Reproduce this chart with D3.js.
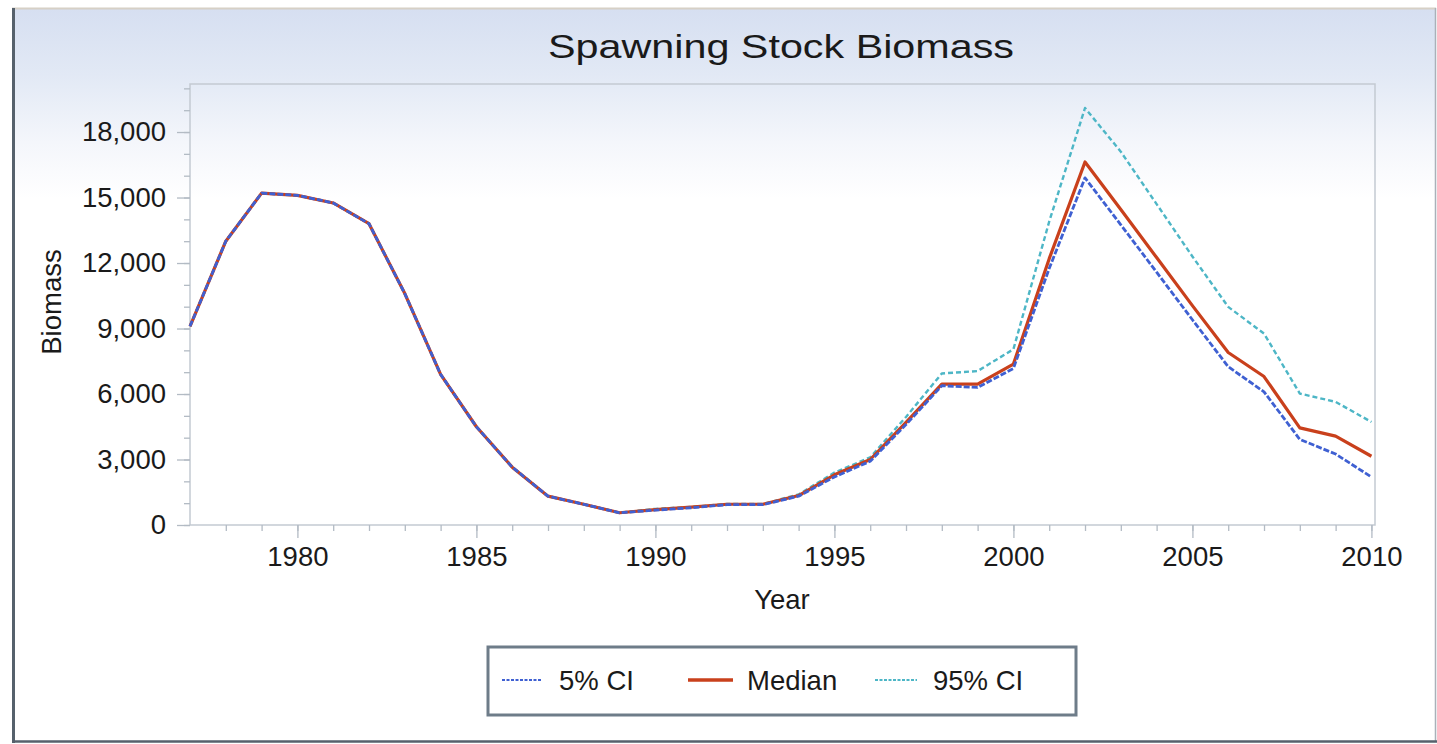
<!DOCTYPE html>
<html>
<head>
<meta charset="utf-8">
<script src="https://cdn.jsdelivr.net/npm/d3@7"></script>
<style>
  html, body { margin: 0; padding: 0; background: #ffffff; }
  svg { display: block; }
  text { font-family: "Liberation Sans", Arial, Helvetica, sans-serif; fill: #1a1a1a; }
</style>
</head>
<body>
<svg id="chart" width="1437" height="744"></svg>
<script>
// ---- data ----
const years = [1977,1978,1979,1980,1981,1982,1983,1984,1985,1986,1987,1988,1989,1990,1991,1992,1993,1994,1995,1996,1997,1998,1999,2000,2001,2002,2003,2004,2005,2006,2007,2008,2009,2010];
const median = [9100,13000,15200,15100,14750,13800,10600,6900,4500,2650,1320,950,560,700,820,950,950,1350,2300,3000,4700,6450,6450,7370,12200,16630,14450,12250,10050,7900,6800,4450,4070,3150];
const ci5    = [9100,13000,15200,15100,14750,13800,10600,6900,4500,2650,1320,950,560,680,790,930,930,1320,2200,2920,4600,6380,6300,7170,11750,15900,13750,11580,9400,7250,6100,3920,3250,2200];
const ci95   = [9100,13000,15200,15100,14750,13800,10600,6900,4500,2650,1320,950,560,740,830,960,960,1400,2400,3100,4950,6940,7050,8050,13900,19100,17100,14700,12300,9990,8770,6020,5640,4720];
const yTicks = [0,3000,6000,9000,12000,15000,18000];
const xTicks = [1980,1985,1990,1995,2000,2005,2010];
const seriesNames = ["5% CI","Median","95% CI"];

const svg = d3.select("#chart");

// background gradient
const defs = svg.append("defs");
const grad = defs.append("linearGradient").attr("id","bg").attr("x1",0).attr("y1",0).attr("x2",0).attr("y2",1);
grad.append("stop").attr("offset","0").attr("stop-color","#d6dff1");
grad.append("stop").attr("offset","0.35").attr("stop-color","#e2e9f5");
grad.append("stop").attr("offset","0.7").attr("stop-color","#f4f6fb");
grad.append("stop").attr("offset","1").attr("stop-color","#ffffff");

svg.append("rect").attr("x",13).attr("y",9).attr("width",1422).attr("height",190).attr("fill","url(#bg)");

// frame
svg.append("line").attr("x1",12).attr("x2",1436).attr("y1",8.5).attr("y2",8.5).attr("stroke","#d6d0c6").attr("stroke-width",2);
svg.append("line").attr("x1",1435.5).attr("x2",1435.5).attr("y1",8).attr("y2",742).attr("stroke","#a9b1b9").attr("stroke-width",1.5);
svg.append("line").attr("x1",13.5).attr("x2",13.5).attr("y1",8).attr("y2",743).attr("stroke","#56616c").attr("stroke-width",3);
svg.append("line").attr("x1",12).attr("x2",1437).attr("y1",741.5).attr("y2",741.5).attr("stroke","#56616c").attr("stroke-width",2.5);

// title
svg.append("text").attr("x",781).attr("y",58).attr("text-anchor","middle")
  .attr("font-size",34).attr("textLength",466).attr("lengthAdjust","spacingAndGlyphs")
  .text("Spawning Stock Biomass");

// scales
const L = 190, R = 1375, T = 84, B = 525;
const x = d3.scaleLinear().domain([1977, 2010.1]).range([L, R]);
const y = d3.scaleLinear().domain([0, 20200]).range([B, T]);

// plot frame
svg.append("rect").attr("x",L).attr("y",T).attr("width",R-L).attr("height",B-T)
  .attr("fill","none").attr("stroke","#c3cad2").attr("stroke-width",1.5);

// minor ticks y
const yMinor = d3.range(0, 20001, 1000);
svg.append("g").attr("transform",`translate(${L},0)`)
  .call(d3.axisLeft(y).tickValues(yMinor).tickSize(6).tickFormat(""))
  .call(g => g.select(".domain").remove())
  .call(g => g.selectAll("line").attr("stroke","#b3bbc4").attr("stroke-width",1.3));
// major ticks y
svg.append("g").attr("transform",`translate(${L},0)`)
  .call(d3.axisLeft(y).tickValues(yTicks).tickSize(13).tickPadding(11).tickFormat(d3.format(",")))
  .call(g => g.select(".domain").remove())
  .call(g => g.selectAll("line").attr("stroke","#b3bbc4").attr("stroke-width",1.3))
  .call(g => g.selectAll("text").attr("font-size",27.5).attr("fill","#1a1a1a").attr("font-family","'Liberation Sans', Arial, sans-serif"));

// x ticks
const xMinor = d3.range(1978, 2011, 1);
svg.append("g").attr("transform",`translate(0,${B})`)
  .call(d3.axisBottom(x).tickValues(xMinor).tickSize(6).tickFormat(""))
  .call(g => g.select(".domain").remove())
  .call(g => g.selectAll("line").attr("stroke","#b3bbc4").attr("stroke-width",1.3));
svg.append("g").attr("transform",`translate(0,${B})`)
  .call(d3.axisBottom(x).tickValues(xTicks).tickSize(13).tickPadding(8).tickFormat(d3.format("d")))
  .call(g => g.select(".domain").remove())
  .call(g => g.selectAll("line").attr("stroke","#b3bbc4").attr("stroke-width",1.3))
  .call(g => g.selectAll("text").attr("font-size",27.5).attr("fill","#1a1a1a").attr("font-family","'Liberation Sans', Arial, sans-serif"));

// axis titles
svg.append("text").attr("x",782).attr("y",609).attr("text-anchor","middle").attr("font-size",27.5).text("Year");
svg.append("text").attr("transform","translate(61,302) rotate(-90)").attr("text-anchor","middle").attr("font-size",27.5).text("Biomass");

// lines
const styles = {
  "5% CI":  {data: ci5,    color: "#3f60d2", width: 2.8, dash: "6,2"},
  "Median": {data: median, color: "#c9401c", width: 3.2, dash: null},
  "95% CI": {data: ci95,   color: "#4db6c6", width: 2.4, dash: "5,3"}
};
const line = d3.line().x(d => x(d[0])).y(d => y(d[1]));
["95% CI","Median","5% CI"].forEach(name => {
  const s = styles[name];
  svg.append("path")
    .datum(years.map((yr,i) => [yr, s.data[i]]))
    .attr("d", line)
    .attr("fill","none")
    .attr("stroke", s.color)
    .attr("stroke-width", s.width)
    .attr("stroke-linejoin","round")
    .attr("stroke-dasharray", s.dash);
});

// legend
svg.append("rect").attr("x",488).attr("y",647).attr("width",588).attr("height",68)
  .attr("fill","#ffffff").attr("stroke","#6e7c89").attr("stroke-width",3);
const legendItems = [
  {name: seriesNames[0], lx1: 502, lx2: 542, tx: 559},
  {name: seriesNames[1], lx1: 688, lx2: 733, tx: 747},
  {name: seriesNames[2], lx1: 875, lx2: 917, tx: 933}
];
legendItems.forEach(it => {
  const s = styles[it.name];
  svg.append("line").attr("x1",it.lx1).attr("x2",it.lx2).attr("y1",680).attr("y2",680)
    .attr("stroke",s.color).attr("stroke-width", it.name === "Median" ? 3.5 : 2.2)
    .attr("stroke-dasharray", s.dash ? "3,1.5" : null);
  svg.append("text").attr("x",it.tx).attr("y",690).attr("font-size",27.5).text(it.name);
});
</script>
</body>
</html>
